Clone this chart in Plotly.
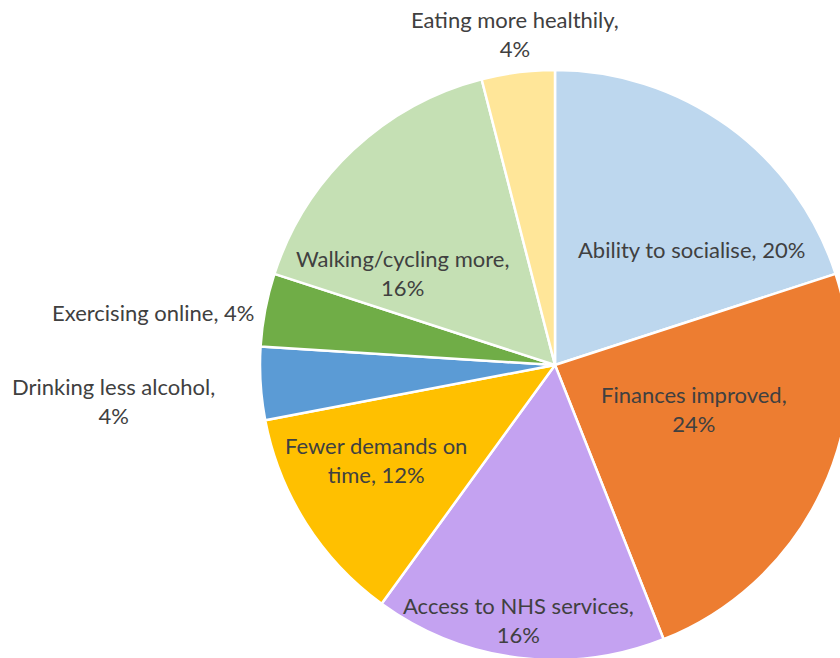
import plotly.graph_objects as go

# Reported changes, as share of responses (%), clockwise from 12 o'clock
categories = [
    "Ability to socialise",
    "Finances improved",
    "Access to NHS services",
    "Fewer demands on time",
    "Drinking less alcohol",
    "Exercising online",
    "Walking/cycling more",
    "Eating more healthily",
]
values = [20, 24, 16, 12, 4, 4, 16, 4]
colors = ["#BDD7EE", "#ED7D31", "#C4A2F1", "#FFC000",
          "#5B9BD5", "#70AD47", "#C5E0B4", "#FFE699"]

# how each data label is wrapped: label line(s), and whether the value sits on its own line
label_lines = [
    "Ability to socialise",
    "Finances improved",
    "Access to NHS services",
    "Fewer demands on<br>time",
    "Drinking less alcohol",
    "Exercising online",
    "Walking/cycling more",
    "Eating more healthily",
]
value_on_new_line = [False, True, True, False, True, False, True, True]

# figure geometry (px)
W, H = 850, 660
M_L, M_T = 260, 70
PLOT_W, PLOT_H = W - M_L, H - M_T
CX, CY = M_L + PLOT_W / 2, M_T + PLOT_H / 2

# data-label centres, as offsets from the pie centre (px, y downwards)
label_offsets = [
    (136, -116),
    (139, 44),
    (-37, 255),
    (-179, 95),
    (-442, 36),
    (-402, -53),
    (-153, -92),
    (-40, -331),
]


def to_paper(px, py):
    return (px - M_L) / PLOT_W, (H - py) / PLOT_H


fig = go.Figure(
    go.Pie(
        labels=categories,
        values=values,
        sort=False,
        direction="clockwise",
        rotation=0,
        marker=dict(colors=colors, line=dict(color="white", width=2.5)),
        textinfo="none",
        hoverinfo="label+percent",
        showlegend=False,
        domain=dict(x=[0, 1], y=[0, 1]),
    )
)

total = sum(values)
for name, v, newline, (dx, dy) in zip(label_lines, values, value_on_new_line, label_offsets):
    pct = round(100 * v / total)
    sep = ",<br>" if newline else ", "
    x, y = to_paper(CX + dx, CY + dy)
    fig.add_annotation(
        x=x, y=y, xref="paper", yref="paper",
        text=f"{name}{sep}{pct}%",
        showarrow=False,
        xanchor="center", yanchor="middle", align="center",
        font=dict(family="Lato", size=22, color="#404040"),
    )

fig.update_layout(
    width=W, height=H,
    margin=dict(l=M_L, r=0, t=M_T, b=0, pad=0),
    paper_bgcolor="white",
    plot_bgcolor="white",
)

fig.write_html(
    "out.html",
    post_script="document.documentElement.style.overflow='hidden';"
                "document.body.style.overflow='hidden';",
)
